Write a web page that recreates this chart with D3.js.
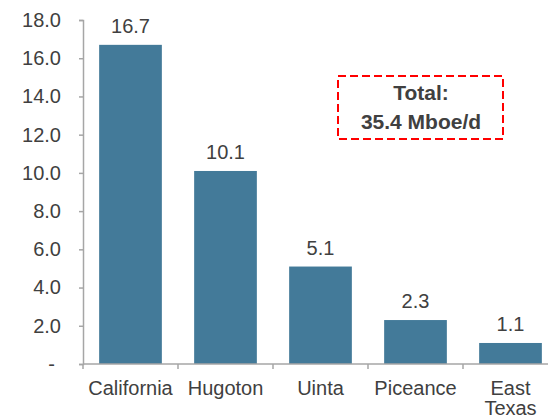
<!DOCTYPE html>
<html>
<head>
<meta charset="utf-8">
<script src="https://cdn.jsdelivr.net/npm/d3@7"></script>
<style>
  body { margin: 0; background: #fff; }
  text { font-family: "Liberation Sans", Arial, sans-serif; fill: #404040; }
</style>
</head>
<body>
<script>
// production by basin, Mboe/d
var basins = ["California", "Hugoton", "Uinta", "Piceance", "East Texas"];
var production = [16.7, 10.1, 5.1, 2.3, 1.1];
var yTicks = [0, 2, 4, 6, 8, 10, 12, 14, 16, 18];
var totalLines = ["Total:", "35.4 Mboe/d"];

var width = 548;
var height = 418;
var fontSize = 20;

var x = d3.scaleBand().domain(basins).range([83, 558]).paddingInner(0.34).paddingOuter(0.17);
var y = d3.scaleLinear().domain([0, 18]).range([364, 20]);

var svg = d3.select("body").append("svg").attr("width", width).attr("height", height);

// bars
svg.selectAll("rect.bar").data(production).enter().append("rect")
    .attr("class", "bar")
    .attr("x", function (d, i) { return x(basins[i]); })
    .attr("y", function (d) { return y(d); })
    .attr("width", x.bandwidth())
    .attr("height", function (d) { return y(0) - y(d); })
    .attr("fill", "#437a99");

// value labels
svg.selectAll("text.val").data(production).enter().append("text")
    .attr("class", "val")
    .attr("x", function (d, i) { return x(basins[i]) + x.bandwidth() / 2; })
    .attr("y", function (d) { return y(d) - 12; })
    .attr("text-anchor", "middle")
    .style("font-size", fontSize + "px")
    .text(function (d) { return d.toFixed(1); });

// y axis
var yAxis = d3.axisLeft(y).tickValues(yTicks).tickSize(4).tickPadding(18)
    .tickFormat(function (d) { return d === 0 ? "-" : d.toFixed(1); });
var gy = svg.append("g").attr("transform", "translate(83,0)").call(yAxis);
gy.select(".domain").attr("stroke", "#a6a6a6").attr("stroke-width", 1.5);
gy.selectAll(".tick line").attr("stroke", "#a6a6a6").attr("stroke-width", 1.5);
gy.selectAll(".tick text").style("font-size", fontSize + "px").attr("fill", "#404040");
gy.selectAll(".tick text").filter(function (d) { return d === 0; }).attr("dx", -6);

// x axis
var gx = svg.append("g").attr("transform", "translate(0," + y(0) + ")");
gx.append("line").attr("x1", 83).attr("x2", width).attr("y1", 0).attr("y2", 0)
    .attr("stroke", "#a6a6a6").attr("stroke-width", 1.5);
var step = x.step();
var bounds = basins.map(function (b) { return x(b) - x.paddingInner() * step / 2; });
gx.selectAll("line.tk").data(bounds).enter().append("line")
    .attr("class", "tk")
    .attr("x1", function (d) { return d; }).attr("x2", function (d) { return d; })
    .attr("y1", 0).attr("y2", 5)
    .attr("stroke", "#a6a6a6").attr("stroke-width", 1.5);
gx.selectAll("text.cat").data(basins).enter().append("text")
    .attr("class", "cat")
    .attr("x", function (d) { return x(d) + x.bandwidth() / 2; })
    .attr("y", 31)
    .attr("text-anchor", "middle")
    .style("font-size", fontSize + "px")
    .each(function (d) {
        var words = d === "East Texas" ? ["East", "Texas"] : [d];
        var t = d3.select(this);
        words.forEach(function (w, i) {
            t.append("tspan").attr("x", x(d) + x.bandwidth() / 2).attr("dy", i === 0 ? 0 : 20).text(w);
        });
    });

// total callout
svg.append("rect")
    .attr("x", 338).attr("y", 76).attr("width", 165).attr("height", 63)
    .attr("fill", "none").attr("stroke", "#ff0000").attr("stroke-width", 2)
    .attr("stroke-dasharray", "8,4");
svg.selectAll("text.total").data(totalLines).enter().append("text")
    .attr("class", "total")
    .attr("x", 421)
    .attr("y", function (d, i) { return 100 + i * 29; })
    .attr("text-anchor", "middle")
    .style("font-size", "21px")
    .style("font-weight", "bold")
    .text(function (d) { return d; });
</script>
</body>
</html>
